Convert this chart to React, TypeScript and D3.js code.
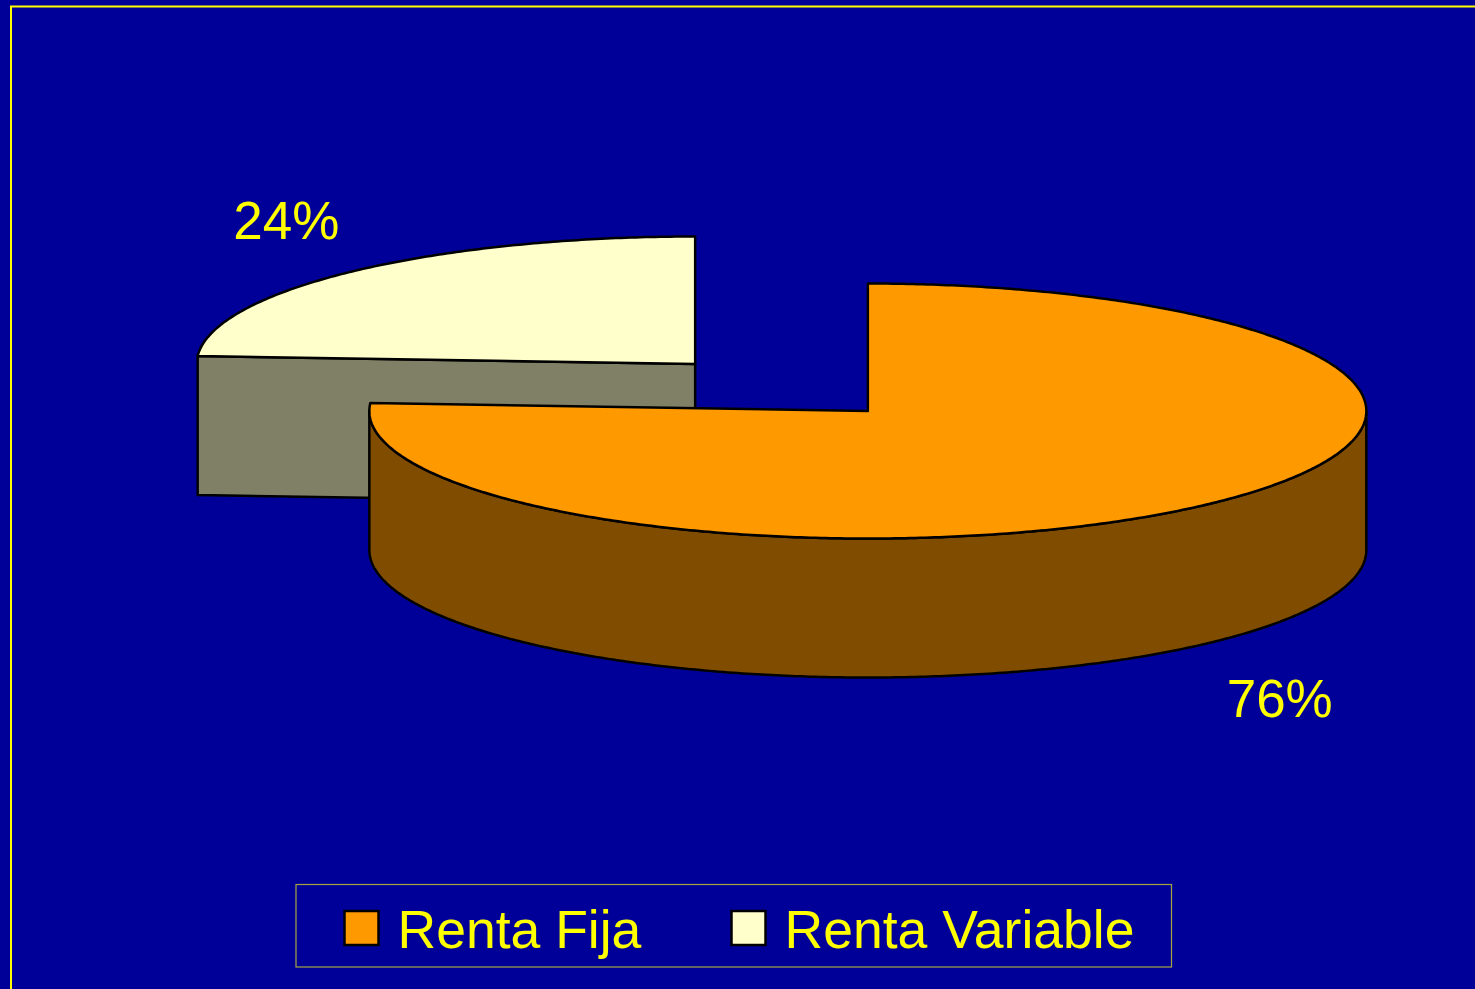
import * as d3 from 'd3'

// Chart data
const categories = ['Renta Fija', 'Renta Variable']
const values = [76, 24]
const labels = ['76%', '24%']
const topColors = ['#FF9900', '#FFFFCC']
const sideColors = ['#804C00', '#808066']

const width = 1475
const height = 989
const bg = '#000099'
const yellow = '#FFFF00'
const font = '"Liberation Sans", Arial, sans-serif'

// pie geometry
const cx = 781.5
const cy = 387.5
const rx = 498.5
const ry = 127.5
const depth = 139
const explode = 0.253

type Pt = [number, number]

export default function App() {
  const pie = d3
    .pie<number>()
    .sort(null)
    .value(d => d)
  const arcs = pie(values)

  const line = d3
    .line<Pt>()
    .x(d => d[0])
    .y(d => d[1])

  const onEllipse = (ox: number, oy: number, a: number, dy = 0): Pt => [
    ox + Math.sin(a) * rx,
    oy - Math.cos(a) * ry + dy,
  ]

  const arcPoints = (ox: number, oy: number, a0: number, a1: number, dy = 0) => {
    const n = Math.max(2, Math.ceil(Math.abs(a1 - a0) / 0.01))
    return d3.range(n + 1).map(i => onEllipse(ox, oy, a0 + ((a1 - a0) * i) / n, dy))
  }

  const slices = arcs.map((a, i) => {
    const mid = (a.startAngle + a.endAngle) / 2
    const ox = cx + Math.sin(mid) * rx * explode
    const oy = cy - Math.cos(mid) * ry * explode
    return { a, i, mid, ox, oy }
  })
  // draw back slices first
  const order = slices.slice().sort((p, q) => -Math.cos(p.mid) - -Math.cos(q.mid))

  const stroke = { stroke: '#000', strokeWidth: 2.5, strokeLinejoin: 'round' as const }

  const faces: JSX.Element[] = []
  order.forEach(({ a, i, ox, oy }) => {
    const c: Pt = [ox, oy]
    // radial faces (only those facing the viewer)
    const radial = (ang: number, normal: number, key: string) => {
      if (Math.cos(normal) >= -1e-6) return
      const e = onEllipse(ox, oy, ang)
      const pts: Pt[] = [c, e, [e[0], e[1] + depth], [ox, oy + depth]]
      faces.push(<path key={key} d={line(pts) + 'Z'} fill={sideColors[i]} {...stroke} />)
    }
    radial(a.startAngle, a.startAngle - Math.PI / 2, `rs${i}`)
    radial(a.endAngle, a.endAngle + Math.PI / 2, `re${i}`)

    // outer wall, front half only
    const lo = Math.max(a.startAngle, Math.PI / 2)
    const hi = Math.min(a.endAngle, (3 * Math.PI) / 2)
    if (lo < hi) {
      const pts = [...arcPoints(ox, oy, lo, hi), ...arcPoints(ox, oy, hi, lo, depth)]
      faces.push(<path key={`w${i}`} d={line(pts) + 'Z'} fill={sideColors[i]} {...stroke} />)
    }

    // top face
    const top = [c, ...arcPoints(ox, oy, a.startAngle, a.endAngle)]
    faces.push(<path key={`t${i}`} d={line(top) + 'Z'} fill={topColors[i]} {...stroke} />)
  })

  // data labels outside each slice
  const dataLabels = slices.map(({ i, mid }) => {
    const front = -Math.cos(mid) > 0
    const x = cx + Math.sin(mid) * rx * 1.46 + (front ? 0 : 3)
    const y = cy - Math.cos(mid) * ry * 1.82 + (front ? depth : 0) + 21
    return (
      <text key={`l${i}`} x={x} y={y} textAnchor="middle" fill={yellow} fontFamily={font} fontSize={53}>
        {labels[i]}
      </text>
    )
  })

  // legend
  const legendX = [344.5, 731.5]
  const legend = categories.map((cat, i) => (
    <g key={cat}>
      <rect x={legendX[i]} y={911} width={34} height={34} fill={topColors[i]} stroke="#000" strokeWidth={2.5} />
      <text x={legendX[i] + 53} y={948} fill={yellow} fontFamily={font} fontSize={53.5}>
        {cat}
      </text>
    </g>
  ))

  return (
    <svg
      width={width}
      height={height}
      style={{ position: 'absolute', left: 0, top: 0, display: 'block' }}
    >
      <rect width={width} height={height} fill={bg} />
      <rect x={11} y={6.5} width={1600} height={1200} fill="none" stroke={yellow} strokeWidth={2} />
      {faces}
      {dataLabels}
      <rect x={296} y={884.5} width={875.5} height={82.5} fill="none" stroke="#A6A640" strokeWidth={1.2} />
      {legend}
    </svg>
  )
}
